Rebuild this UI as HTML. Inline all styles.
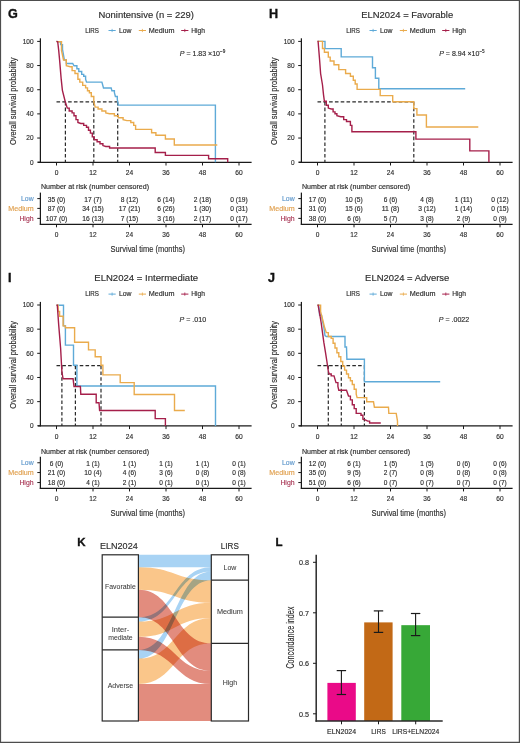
<!DOCTYPE html><html><head><meta charset="utf-8"><style>html,body{margin:0;padding:0;background:#fff;}svg{display:block;font-family:"Liberation Sans", sans-serif;}</style></head><body>
<svg width="520" height="743" viewBox="0 0 520 743">
<rect x="0" y="0" width="520" height="743" fill="#fff"/>
<text x="7.9" y="18" font-size="12.6" fill="#111" font-weight="bold" stroke="#111" stroke-width="0.35">G</text>
<text x="146.2" y="17.8" font-size="9.3" fill="#2b2b2b" stroke="#2b2b2b" stroke-width="0.15" text-anchor="middle" textLength="95.3" lengthAdjust="spacingAndGlyphs">Nonintensive (n = 229)</text>
<text x="85.2" y="32.8" font-size="6.4" fill="#2b2b2b" stroke="#2b2b2b" stroke-width="0.15" textLength="13.8" lengthAdjust="spacingAndGlyphs">LIRS</text>
<line x1="108.5" y1="30.5" x2="115.7" y2="30.5" stroke="#5eaad8" stroke-width="1"/>
<line x1="112.1" y1="28.9" x2="112.1" y2="32.1" stroke="#5eaad8" stroke-width="0.8"/>
<text x="119" y="32.8" font-size="6.8" fill="#2b2b2b" stroke="#2b2b2b" stroke-width="0.15" textLength="12.5" lengthAdjust="spacingAndGlyphs">Low</text>
<line x1="138.8" y1="30.5" x2="146" y2="30.5" stroke="#eaab4c" stroke-width="1"/>
<line x1="142.4" y1="28.9" x2="142.4" y2="32.1" stroke="#eaab4c" stroke-width="0.8"/>
<text x="148.8" y="32.8" font-size="6.8" fill="#2b2b2b" stroke="#2b2b2b" stroke-width="0.15" textLength="25.7" lengthAdjust="spacingAndGlyphs">Medium</text>
<line x1="181.2" y1="30.5" x2="188.4" y2="30.5" stroke="#a51f4a" stroke-width="1"/>
<line x1="184.8" y1="28.9" x2="184.8" y2="32.1" stroke="#a51f4a" stroke-width="0.8"/>
<text x="191.2" y="32.8" font-size="6.8" fill="#2b2b2b" stroke="#2b2b2b" stroke-width="0.15" textLength="13.8" lengthAdjust="spacingAndGlyphs">High</text>
<text x="179.8" y="55.5" font-size="7" fill="#2b2b2b" stroke="#2b2b2b" stroke-width="0.15" textLength="45.5" lengthAdjust="spacingAndGlyphs"><tspan font-style="italic">P</tspan> = 1.83 ×10<tspan font-size="4.6" dy="-2.8">−9</tspan></text>
<line x1="40.4" y1="38.3" x2="40.4" y2="162.8" stroke="#1a1a1a" stroke-width="1.25"/>
<line x1="37.2" y1="162.2" x2="40.4" y2="162.2" stroke="#1a1a1a" stroke-width="1"/>
<text x="33.5" y="164.6" font-size="7.5" fill="#2b2b2b" stroke="#2b2b2b" stroke-width="0.15" text-anchor="end" textLength="3.6" lengthAdjust="spacingAndGlyphs">0</text>
<line x1="37.2" y1="138.04" x2="40.4" y2="138.04" stroke="#1a1a1a" stroke-width="1"/>
<text x="33.5" y="140.44" font-size="7.5" fill="#2b2b2b" stroke="#2b2b2b" stroke-width="0.15" text-anchor="end" textLength="7.2" lengthAdjust="spacingAndGlyphs">20</text>
<line x1="37.2" y1="113.88" x2="40.4" y2="113.88" stroke="#1a1a1a" stroke-width="1"/>
<text x="33.5" y="116.28" font-size="7.5" fill="#2b2b2b" stroke="#2b2b2b" stroke-width="0.15" text-anchor="end" textLength="7.2" lengthAdjust="spacingAndGlyphs">40</text>
<line x1="37.2" y1="89.72" x2="40.4" y2="89.72" stroke="#1a1a1a" stroke-width="1"/>
<text x="33.5" y="92.12" font-size="7.5" fill="#2b2b2b" stroke="#2b2b2b" stroke-width="0.15" text-anchor="end" textLength="7.2" lengthAdjust="spacingAndGlyphs">60</text>
<line x1="37.2" y1="65.56" x2="40.4" y2="65.56" stroke="#1a1a1a" stroke-width="1"/>
<text x="33.5" y="67.96" font-size="7.5" fill="#2b2b2b" stroke="#2b2b2b" stroke-width="0.15" text-anchor="end" textLength="7.2" lengthAdjust="spacingAndGlyphs">80</text>
<line x1="37.2" y1="41.4" x2="40.4" y2="41.4" stroke="#1a1a1a" stroke-width="1"/>
<text x="33.5" y="43.8" font-size="7.5" fill="#2b2b2b" stroke="#2b2b2b" stroke-width="0.15" text-anchor="end" textLength="10.8" lengthAdjust="spacingAndGlyphs">100</text>
<text x="12.8" y="101.3" font-size="9.8" fill="#2b2b2b" stroke="#2b2b2b" stroke-width="0.15" text-anchor="middle" textLength="87.6" lengthAdjust="spacingAndGlyphs" transform="rotate(-90 12.8 101.3) translate(0 2.8)">Overall survival probability</text>
<line x1="38" y1="162.35" x2="251.6" y2="162.35" stroke="#1a1a1a" stroke-width="1.25"/>
<line x1="56.5" y1="162.2" x2="56.5" y2="165.5" stroke="#1a1a1a" stroke-width="1"/>
<text x="56.5" y="175" font-size="7.3" fill="#2b2b2b" stroke="#2b2b2b" stroke-width="0.15" text-anchor="middle" textLength="3.7" lengthAdjust="spacingAndGlyphs">0</text>
<line x1="93" y1="162.2" x2="93" y2="165.5" stroke="#1a1a1a" stroke-width="1"/>
<text x="93" y="175" font-size="7.3" fill="#2b2b2b" stroke="#2b2b2b" stroke-width="0.15" text-anchor="middle" textLength="7.4" lengthAdjust="spacingAndGlyphs">12</text>
<line x1="129.5" y1="162.2" x2="129.5" y2="165.5" stroke="#1a1a1a" stroke-width="1"/>
<text x="129.5" y="175" font-size="7.3" fill="#2b2b2b" stroke="#2b2b2b" stroke-width="0.15" text-anchor="middle" textLength="7.4" lengthAdjust="spacingAndGlyphs">24</text>
<line x1="166" y1="162.2" x2="166" y2="165.5" stroke="#1a1a1a" stroke-width="1"/>
<text x="166" y="175" font-size="7.3" fill="#2b2b2b" stroke="#2b2b2b" stroke-width="0.15" text-anchor="middle" textLength="7.4" lengthAdjust="spacingAndGlyphs">36</text>
<line x1="202.5" y1="162.2" x2="202.5" y2="165.5" stroke="#1a1a1a" stroke-width="1"/>
<text x="202.5" y="175" font-size="7.3" fill="#2b2b2b" stroke="#2b2b2b" stroke-width="0.15" text-anchor="middle" textLength="7.4" lengthAdjust="spacingAndGlyphs">48</text>
<line x1="239" y1="162.2" x2="239" y2="165.5" stroke="#1a1a1a" stroke-width="1"/>
<text x="239" y="175" font-size="7.3" fill="#2b2b2b" stroke="#2b2b2b" stroke-width="0.15" text-anchor="middle" textLength="7.4" lengthAdjust="spacingAndGlyphs">60</text>
<text x="41" y="189.4" font-size="7" fill="#2b2b2b" stroke="#2b2b2b" stroke-width="0.15" textLength="108" lengthAdjust="spacingAndGlyphs">Number at risk (number censored)</text>
<line x1="40.4" y1="192.6" x2="40.4" y2="224.8" stroke="#1a1a1a" stroke-width="1.25"/>
<line x1="39.8" y1="224.3" x2="251.6" y2="224.3" stroke="#1a1a1a" stroke-width="1.3"/>
<line x1="37.3" y1="198.6" x2="40.4" y2="198.6" stroke="#1a1a1a" stroke-width="1"/>
<text x="33.6" y="201.2" font-size="7.2" fill="#5f98cc" stroke="#5f98cc" stroke-width="0.15" text-anchor="end" textLength="12.6" lengthAdjust="spacingAndGlyphs">Low</text>
<text x="56.5" y="201.5" font-size="7.3" fill="#2b2b2b" stroke="#2b2b2b" stroke-width="0.15" text-anchor="middle" textLength="17.35" lengthAdjust="spacingAndGlyphs">35 (0)</text>
<text x="93" y="201.5" font-size="7.3" fill="#2b2b2b" stroke="#2b2b2b" stroke-width="0.15" text-anchor="middle" textLength="17.35" lengthAdjust="spacingAndGlyphs">17 (7)</text>
<text x="129.5" y="201.5" font-size="7.3" fill="#2b2b2b" stroke="#2b2b2b" stroke-width="0.15" text-anchor="middle" textLength="17.35" lengthAdjust="spacingAndGlyphs">8 (12)</text>
<text x="166" y="201.5" font-size="7.3" fill="#2b2b2b" stroke="#2b2b2b" stroke-width="0.15" text-anchor="middle" textLength="17.35" lengthAdjust="spacingAndGlyphs">6 (14)</text>
<text x="202.5" y="201.5" font-size="7.3" fill="#2b2b2b" stroke="#2b2b2b" stroke-width="0.15" text-anchor="middle" textLength="17.35" lengthAdjust="spacingAndGlyphs">2 (18)</text>
<text x="239" y="201.5" font-size="7.3" fill="#2b2b2b" stroke="#2b2b2b" stroke-width="0.15" text-anchor="middle" textLength="17.35" lengthAdjust="spacingAndGlyphs">0 (19)</text>
<line x1="37.3" y1="208.4" x2="40.4" y2="208.4" stroke="#1a1a1a" stroke-width="1"/>
<text x="33.6" y="211" font-size="7.2" fill="#e09f4c" stroke="#e09f4c" stroke-width="0.15" text-anchor="end" textLength="25.3" lengthAdjust="spacingAndGlyphs">Medium</text>
<text x="56.5" y="211.3" font-size="7.3" fill="#2b2b2b" stroke="#2b2b2b" stroke-width="0.15" text-anchor="middle" textLength="17.35" lengthAdjust="spacingAndGlyphs">87 (0)</text>
<text x="93" y="211.3" font-size="7.3" fill="#2b2b2b" stroke="#2b2b2b" stroke-width="0.15" text-anchor="middle" textLength="21.3" lengthAdjust="spacingAndGlyphs">34 (15)</text>
<text x="129.5" y="211.3" font-size="7.3" fill="#2b2b2b" stroke="#2b2b2b" stroke-width="0.15" text-anchor="middle" textLength="21.3" lengthAdjust="spacingAndGlyphs">17 (21)</text>
<text x="166" y="211.3" font-size="7.3" fill="#2b2b2b" stroke="#2b2b2b" stroke-width="0.15" text-anchor="middle" textLength="17.35" lengthAdjust="spacingAndGlyphs">6 (26)</text>
<text x="202.5" y="211.3" font-size="7.3" fill="#2b2b2b" stroke="#2b2b2b" stroke-width="0.15" text-anchor="middle" textLength="17.35" lengthAdjust="spacingAndGlyphs">1 (30)</text>
<text x="239" y="211.3" font-size="7.3" fill="#2b2b2b" stroke="#2b2b2b" stroke-width="0.15" text-anchor="middle" textLength="17.35" lengthAdjust="spacingAndGlyphs">0 (31)</text>
<line x1="37.3" y1="218.4" x2="40.4" y2="218.4" stroke="#1a1a1a" stroke-width="1"/>
<text x="33.6" y="221" font-size="7.2" fill="#a93856" stroke="#a93856" stroke-width="0.15" text-anchor="end" textLength="14.2" lengthAdjust="spacingAndGlyphs">High</text>
<text x="56.5" y="221.3" font-size="7.3" fill="#2b2b2b" stroke="#2b2b2b" stroke-width="0.15" text-anchor="middle" textLength="21.3" lengthAdjust="spacingAndGlyphs">107 (0)</text>
<text x="93" y="221.3" font-size="7.3" fill="#2b2b2b" stroke="#2b2b2b" stroke-width="0.15" text-anchor="middle" textLength="21.3" lengthAdjust="spacingAndGlyphs">16 (13)</text>
<text x="129.5" y="221.3" font-size="7.3" fill="#2b2b2b" stroke="#2b2b2b" stroke-width="0.15" text-anchor="middle" textLength="17.35" lengthAdjust="spacingAndGlyphs">7 (15)</text>
<text x="166" y="221.3" font-size="7.3" fill="#2b2b2b" stroke="#2b2b2b" stroke-width="0.15" text-anchor="middle" textLength="17.35" lengthAdjust="spacingAndGlyphs">3 (16)</text>
<text x="202.5" y="221.3" font-size="7.3" fill="#2b2b2b" stroke="#2b2b2b" stroke-width="0.15" text-anchor="middle" textLength="17.35" lengthAdjust="spacingAndGlyphs">2 (17)</text>
<text x="239" y="221.3" font-size="7.3" fill="#2b2b2b" stroke="#2b2b2b" stroke-width="0.15" text-anchor="middle" textLength="17.35" lengthAdjust="spacingAndGlyphs">0 (17)</text>
<line x1="56.5" y1="224.3" x2="56.5" y2="227.3" stroke="#1a1a1a" stroke-width="1"/>
<text x="56.5" y="237.3" font-size="7.4" fill="#2b2b2b" stroke="#2b2b2b" stroke-width="0.15" text-anchor="middle" textLength="3.65" lengthAdjust="spacingAndGlyphs">0</text>
<line x1="93" y1="224.3" x2="93" y2="227.3" stroke="#1a1a1a" stroke-width="1"/>
<text x="93" y="237.3" font-size="7.4" fill="#2b2b2b" stroke="#2b2b2b" stroke-width="0.15" text-anchor="middle" textLength="7.3" lengthAdjust="spacingAndGlyphs">12</text>
<line x1="129.5" y1="224.3" x2="129.5" y2="227.3" stroke="#1a1a1a" stroke-width="1"/>
<text x="129.5" y="237.3" font-size="7.4" fill="#2b2b2b" stroke="#2b2b2b" stroke-width="0.15" text-anchor="middle" textLength="7.3" lengthAdjust="spacingAndGlyphs">24</text>
<line x1="166" y1="224.3" x2="166" y2="227.3" stroke="#1a1a1a" stroke-width="1"/>
<text x="166" y="237.3" font-size="7.4" fill="#2b2b2b" stroke="#2b2b2b" stroke-width="0.15" text-anchor="middle" textLength="7.3" lengthAdjust="spacingAndGlyphs">36</text>
<line x1="202.5" y1="224.3" x2="202.5" y2="227.3" stroke="#1a1a1a" stroke-width="1"/>
<text x="202.5" y="237.3" font-size="7.4" fill="#2b2b2b" stroke="#2b2b2b" stroke-width="0.15" text-anchor="middle" textLength="7.3" lengthAdjust="spacingAndGlyphs">48</text>
<line x1="239" y1="224.3" x2="239" y2="227.3" stroke="#1a1a1a" stroke-width="1"/>
<text x="239" y="237.3" font-size="7.4" fill="#2b2b2b" stroke="#2b2b2b" stroke-width="0.15" text-anchor="middle" textLength="7.3" lengthAdjust="spacingAndGlyphs">60</text>
<text x="110.6" y="251.8" font-size="9.4" fill="#2b2b2b" stroke="#2b2b2b" stroke-width="0.15" textLength="74.4" lengthAdjust="spacingAndGlyphs">Survival time (months)</text>
<text x="268.9" y="18" font-size="12.6" fill="#111" font-weight="bold" stroke="#111" stroke-width="0.35">H</text>
<text x="407.2" y="17.8" font-size="9.3" fill="#2b2b2b" stroke="#2b2b2b" stroke-width="0.15" text-anchor="middle" textLength="91.9" lengthAdjust="spacingAndGlyphs">ELN2024 = Favorable</text>
<text x="346.2" y="32.8" font-size="6.4" fill="#2b2b2b" stroke="#2b2b2b" stroke-width="0.15" textLength="13.8" lengthAdjust="spacingAndGlyphs">LIRS</text>
<line x1="369.5" y1="30.5" x2="376.7" y2="30.5" stroke="#5eaad8" stroke-width="1"/>
<line x1="373.1" y1="28.9" x2="373.1" y2="32.1" stroke="#5eaad8" stroke-width="0.8"/>
<text x="380" y="32.8" font-size="6.8" fill="#2b2b2b" stroke="#2b2b2b" stroke-width="0.15" textLength="12.5" lengthAdjust="spacingAndGlyphs">Low</text>
<line x1="399.8" y1="30.5" x2="407" y2="30.5" stroke="#eaab4c" stroke-width="1"/>
<line x1="403.4" y1="28.9" x2="403.4" y2="32.1" stroke="#eaab4c" stroke-width="0.8"/>
<text x="409.8" y="32.8" font-size="6.8" fill="#2b2b2b" stroke="#2b2b2b" stroke-width="0.15" textLength="25.7" lengthAdjust="spacingAndGlyphs">Medium</text>
<line x1="442.2" y1="30.5" x2="449.4" y2="30.5" stroke="#a51f4a" stroke-width="1"/>
<line x1="445.8" y1="28.9" x2="445.8" y2="32.1" stroke="#a51f4a" stroke-width="0.8"/>
<text x="452.2" y="32.8" font-size="6.8" fill="#2b2b2b" stroke="#2b2b2b" stroke-width="0.15" textLength="13.8" lengthAdjust="spacingAndGlyphs">High</text>
<text x="439.2" y="55.5" font-size="7" fill="#2b2b2b" stroke="#2b2b2b" stroke-width="0.15" textLength="45.5" lengthAdjust="spacingAndGlyphs"><tspan font-style="italic">P</tspan> = 8.94 ×10<tspan font-size="4.6" dy="-2.8">−5</tspan></text>
<line x1="301.4" y1="38.3" x2="301.4" y2="162.8" stroke="#1a1a1a" stroke-width="1.25"/>
<line x1="298.2" y1="162.2" x2="301.4" y2="162.2" stroke="#1a1a1a" stroke-width="1"/>
<text x="294.5" y="164.6" font-size="7.5" fill="#2b2b2b" stroke="#2b2b2b" stroke-width="0.15" text-anchor="end" textLength="3.6" lengthAdjust="spacingAndGlyphs">0</text>
<line x1="298.2" y1="138.04" x2="301.4" y2="138.04" stroke="#1a1a1a" stroke-width="1"/>
<text x="294.5" y="140.44" font-size="7.5" fill="#2b2b2b" stroke="#2b2b2b" stroke-width="0.15" text-anchor="end" textLength="7.2" lengthAdjust="spacingAndGlyphs">20</text>
<line x1="298.2" y1="113.88" x2="301.4" y2="113.88" stroke="#1a1a1a" stroke-width="1"/>
<text x="294.5" y="116.28" font-size="7.5" fill="#2b2b2b" stroke="#2b2b2b" stroke-width="0.15" text-anchor="end" textLength="7.2" lengthAdjust="spacingAndGlyphs">40</text>
<line x1="298.2" y1="89.72" x2="301.4" y2="89.72" stroke="#1a1a1a" stroke-width="1"/>
<text x="294.5" y="92.12" font-size="7.5" fill="#2b2b2b" stroke="#2b2b2b" stroke-width="0.15" text-anchor="end" textLength="7.2" lengthAdjust="spacingAndGlyphs">60</text>
<line x1="298.2" y1="65.56" x2="301.4" y2="65.56" stroke="#1a1a1a" stroke-width="1"/>
<text x="294.5" y="67.96" font-size="7.5" fill="#2b2b2b" stroke="#2b2b2b" stroke-width="0.15" text-anchor="end" textLength="7.2" lengthAdjust="spacingAndGlyphs">80</text>
<line x1="298.2" y1="41.4" x2="301.4" y2="41.4" stroke="#1a1a1a" stroke-width="1"/>
<text x="294.5" y="43.8" font-size="7.5" fill="#2b2b2b" stroke="#2b2b2b" stroke-width="0.15" text-anchor="end" textLength="10.8" lengthAdjust="spacingAndGlyphs">100</text>
<text x="273.8" y="101.3" font-size="9.8" fill="#2b2b2b" stroke="#2b2b2b" stroke-width="0.15" text-anchor="middle" textLength="87.6" lengthAdjust="spacingAndGlyphs" transform="rotate(-90 273.8 101.3) translate(0 2.8)">Overall survival probability</text>
<line x1="299" y1="162.35" x2="512.6" y2="162.35" stroke="#1a1a1a" stroke-width="1.25"/>
<line x1="317.5" y1="162.2" x2="317.5" y2="165.5" stroke="#1a1a1a" stroke-width="1"/>
<text x="317.5" y="175" font-size="7.3" fill="#2b2b2b" stroke="#2b2b2b" stroke-width="0.15" text-anchor="middle" textLength="3.7" lengthAdjust="spacingAndGlyphs">0</text>
<line x1="354" y1="162.2" x2="354" y2="165.5" stroke="#1a1a1a" stroke-width="1"/>
<text x="354" y="175" font-size="7.3" fill="#2b2b2b" stroke="#2b2b2b" stroke-width="0.15" text-anchor="middle" textLength="7.4" lengthAdjust="spacingAndGlyphs">12</text>
<line x1="390.5" y1="162.2" x2="390.5" y2="165.5" stroke="#1a1a1a" stroke-width="1"/>
<text x="390.5" y="175" font-size="7.3" fill="#2b2b2b" stroke="#2b2b2b" stroke-width="0.15" text-anchor="middle" textLength="7.4" lengthAdjust="spacingAndGlyphs">24</text>
<line x1="427" y1="162.2" x2="427" y2="165.5" stroke="#1a1a1a" stroke-width="1"/>
<text x="427" y="175" font-size="7.3" fill="#2b2b2b" stroke="#2b2b2b" stroke-width="0.15" text-anchor="middle" textLength="7.4" lengthAdjust="spacingAndGlyphs">36</text>
<line x1="463.5" y1="162.2" x2="463.5" y2="165.5" stroke="#1a1a1a" stroke-width="1"/>
<text x="463.5" y="175" font-size="7.3" fill="#2b2b2b" stroke="#2b2b2b" stroke-width="0.15" text-anchor="middle" textLength="7.4" lengthAdjust="spacingAndGlyphs">48</text>
<line x1="500" y1="162.2" x2="500" y2="165.5" stroke="#1a1a1a" stroke-width="1"/>
<text x="500" y="175" font-size="7.3" fill="#2b2b2b" stroke="#2b2b2b" stroke-width="0.15" text-anchor="middle" textLength="7.4" lengthAdjust="spacingAndGlyphs">60</text>
<text x="302" y="189.4" font-size="7" fill="#2b2b2b" stroke="#2b2b2b" stroke-width="0.15" textLength="108" lengthAdjust="spacingAndGlyphs">Number at risk (number censored)</text>
<line x1="301.4" y1="192.6" x2="301.4" y2="224.8" stroke="#1a1a1a" stroke-width="1.25"/>
<line x1="300.8" y1="224.3" x2="512.6" y2="224.3" stroke="#1a1a1a" stroke-width="1.3"/>
<line x1="298.3" y1="198.6" x2="301.4" y2="198.6" stroke="#1a1a1a" stroke-width="1"/>
<text x="294.6" y="201.2" font-size="7.2" fill="#5f98cc" stroke="#5f98cc" stroke-width="0.15" text-anchor="end" textLength="12.6" lengthAdjust="spacingAndGlyphs">Low</text>
<text x="317.5" y="201.5" font-size="7.3" fill="#2b2b2b" stroke="#2b2b2b" stroke-width="0.15" text-anchor="middle" textLength="17.35" lengthAdjust="spacingAndGlyphs">17 (0)</text>
<text x="354" y="201.5" font-size="7.3" fill="#2b2b2b" stroke="#2b2b2b" stroke-width="0.15" text-anchor="middle" textLength="17.35" lengthAdjust="spacingAndGlyphs">10 (5)</text>
<text x="390.5" y="201.5" font-size="7.3" fill="#2b2b2b" stroke="#2b2b2b" stroke-width="0.15" text-anchor="middle" textLength="13.4" lengthAdjust="spacingAndGlyphs">6 (6)</text>
<text x="427" y="201.5" font-size="7.3" fill="#2b2b2b" stroke="#2b2b2b" stroke-width="0.15" text-anchor="middle" textLength="13.4" lengthAdjust="spacingAndGlyphs">4 (8)</text>
<text x="463.5" y="201.5" font-size="7.3" fill="#2b2b2b" stroke="#2b2b2b" stroke-width="0.15" text-anchor="middle" textLength="17.35" lengthAdjust="spacingAndGlyphs">1 (11)</text>
<text x="500" y="201.5" font-size="7.3" fill="#2b2b2b" stroke="#2b2b2b" stroke-width="0.15" text-anchor="middle" textLength="17.35" lengthAdjust="spacingAndGlyphs">0 (12)</text>
<line x1="298.3" y1="208.4" x2="301.4" y2="208.4" stroke="#1a1a1a" stroke-width="1"/>
<text x="294.6" y="211" font-size="7.2" fill="#e09f4c" stroke="#e09f4c" stroke-width="0.15" text-anchor="end" textLength="25.3" lengthAdjust="spacingAndGlyphs">Medium</text>
<text x="317.5" y="211.3" font-size="7.3" fill="#2b2b2b" stroke="#2b2b2b" stroke-width="0.15" text-anchor="middle" textLength="17.35" lengthAdjust="spacingAndGlyphs">31 (0)</text>
<text x="354" y="211.3" font-size="7.3" fill="#2b2b2b" stroke="#2b2b2b" stroke-width="0.15" text-anchor="middle" textLength="17.35" lengthAdjust="spacingAndGlyphs">15 (6)</text>
<text x="390.5" y="211.3" font-size="7.3" fill="#2b2b2b" stroke="#2b2b2b" stroke-width="0.15" text-anchor="middle" textLength="17.35" lengthAdjust="spacingAndGlyphs">11 (8)</text>
<text x="427" y="211.3" font-size="7.3" fill="#2b2b2b" stroke="#2b2b2b" stroke-width="0.15" text-anchor="middle" textLength="17.35" lengthAdjust="spacingAndGlyphs">3 (12)</text>
<text x="463.5" y="211.3" font-size="7.3" fill="#2b2b2b" stroke="#2b2b2b" stroke-width="0.15" text-anchor="middle" textLength="17.35" lengthAdjust="spacingAndGlyphs">1 (14)</text>
<text x="500" y="211.3" font-size="7.3" fill="#2b2b2b" stroke="#2b2b2b" stroke-width="0.15" text-anchor="middle" textLength="17.35" lengthAdjust="spacingAndGlyphs">0 (15)</text>
<line x1="298.3" y1="218.4" x2="301.4" y2="218.4" stroke="#1a1a1a" stroke-width="1"/>
<text x="294.6" y="221" font-size="7.2" fill="#a93856" stroke="#a93856" stroke-width="0.15" text-anchor="end" textLength="14.2" lengthAdjust="spacingAndGlyphs">High</text>
<text x="317.5" y="221.3" font-size="7.3" fill="#2b2b2b" stroke="#2b2b2b" stroke-width="0.15" text-anchor="middle" textLength="17.35" lengthAdjust="spacingAndGlyphs">38 (0)</text>
<text x="354" y="221.3" font-size="7.3" fill="#2b2b2b" stroke="#2b2b2b" stroke-width="0.15" text-anchor="middle" textLength="13.4" lengthAdjust="spacingAndGlyphs">6 (6)</text>
<text x="390.5" y="221.3" font-size="7.3" fill="#2b2b2b" stroke="#2b2b2b" stroke-width="0.15" text-anchor="middle" textLength="13.4" lengthAdjust="spacingAndGlyphs">5 (7)</text>
<text x="427" y="221.3" font-size="7.3" fill="#2b2b2b" stroke="#2b2b2b" stroke-width="0.15" text-anchor="middle" textLength="13.4" lengthAdjust="spacingAndGlyphs">3 (8)</text>
<text x="463.5" y="221.3" font-size="7.3" fill="#2b2b2b" stroke="#2b2b2b" stroke-width="0.15" text-anchor="middle" textLength="13.4" lengthAdjust="spacingAndGlyphs">2 (9)</text>
<text x="500" y="221.3" font-size="7.3" fill="#2b2b2b" stroke="#2b2b2b" stroke-width="0.15" text-anchor="middle" textLength="13.4" lengthAdjust="spacingAndGlyphs">0 (9)</text>
<line x1="317.5" y1="224.3" x2="317.5" y2="227.3" stroke="#1a1a1a" stroke-width="1"/>
<text x="317.5" y="237.3" font-size="7.4" fill="#2b2b2b" stroke="#2b2b2b" stroke-width="0.15" text-anchor="middle" textLength="3.65" lengthAdjust="spacingAndGlyphs">0</text>
<line x1="354" y1="224.3" x2="354" y2="227.3" stroke="#1a1a1a" stroke-width="1"/>
<text x="354" y="237.3" font-size="7.4" fill="#2b2b2b" stroke="#2b2b2b" stroke-width="0.15" text-anchor="middle" textLength="7.3" lengthAdjust="spacingAndGlyphs">12</text>
<line x1="390.5" y1="224.3" x2="390.5" y2="227.3" stroke="#1a1a1a" stroke-width="1"/>
<text x="390.5" y="237.3" font-size="7.4" fill="#2b2b2b" stroke="#2b2b2b" stroke-width="0.15" text-anchor="middle" textLength="7.3" lengthAdjust="spacingAndGlyphs">24</text>
<line x1="427" y1="224.3" x2="427" y2="227.3" stroke="#1a1a1a" stroke-width="1"/>
<text x="427" y="237.3" font-size="7.4" fill="#2b2b2b" stroke="#2b2b2b" stroke-width="0.15" text-anchor="middle" textLength="7.3" lengthAdjust="spacingAndGlyphs">36</text>
<line x1="463.5" y1="224.3" x2="463.5" y2="227.3" stroke="#1a1a1a" stroke-width="1"/>
<text x="463.5" y="237.3" font-size="7.4" fill="#2b2b2b" stroke="#2b2b2b" stroke-width="0.15" text-anchor="middle" textLength="7.3" lengthAdjust="spacingAndGlyphs">48</text>
<line x1="500" y1="224.3" x2="500" y2="227.3" stroke="#1a1a1a" stroke-width="1"/>
<text x="500" y="237.3" font-size="7.4" fill="#2b2b2b" stroke="#2b2b2b" stroke-width="0.15" text-anchor="middle" textLength="7.3" lengthAdjust="spacingAndGlyphs">60</text>
<text x="371.6" y="251.8" font-size="9.4" fill="#2b2b2b" stroke="#2b2b2b" stroke-width="0.15" textLength="74.4" lengthAdjust="spacingAndGlyphs">Survival time (months)</text>
<text x="7.9" y="281.6" font-size="12.6" fill="#111" font-weight="bold" stroke="#111" stroke-width="0.35">I</text>
<text x="146.2" y="281.4" font-size="9.3" fill="#2b2b2b" stroke="#2b2b2b" stroke-width="0.15" text-anchor="middle" textLength="103.9" lengthAdjust="spacingAndGlyphs">ELN2024 = Intermediate</text>
<text x="85.2" y="296.4" font-size="6.4" fill="#2b2b2b" stroke="#2b2b2b" stroke-width="0.15" textLength="13.8" lengthAdjust="spacingAndGlyphs">LIRS</text>
<line x1="108.5" y1="294.1" x2="115.7" y2="294.1" stroke="#5eaad8" stroke-width="1"/>
<line x1="112.1" y1="292.5" x2="112.1" y2="295.7" stroke="#5eaad8" stroke-width="0.8"/>
<text x="119" y="296.4" font-size="6.8" fill="#2b2b2b" stroke="#2b2b2b" stroke-width="0.15" textLength="12.5" lengthAdjust="spacingAndGlyphs">Low</text>
<line x1="138.8" y1="294.1" x2="146" y2="294.1" stroke="#eaab4c" stroke-width="1"/>
<line x1="142.4" y1="292.5" x2="142.4" y2="295.7" stroke="#eaab4c" stroke-width="0.8"/>
<text x="148.8" y="296.4" font-size="6.8" fill="#2b2b2b" stroke="#2b2b2b" stroke-width="0.15" textLength="25.7" lengthAdjust="spacingAndGlyphs">Medium</text>
<line x1="181.2" y1="294.1" x2="188.4" y2="294.1" stroke="#a51f4a" stroke-width="1"/>
<line x1="184.8" y1="292.5" x2="184.8" y2="295.7" stroke="#a51f4a" stroke-width="0.8"/>
<text x="191.2" y="296.4" font-size="6.8" fill="#2b2b2b" stroke="#2b2b2b" stroke-width="0.15" textLength="13.8" lengthAdjust="spacingAndGlyphs">High</text>
<text x="179.6" y="321.5" font-size="7" fill="#2b2b2b" stroke="#2b2b2b" stroke-width="0.15" textLength="26.5" lengthAdjust="spacingAndGlyphs"><tspan font-style="italic">P</tspan> = .010</text>
<line x1="40.4" y1="301.9" x2="40.4" y2="426.4" stroke="#1a1a1a" stroke-width="1.25"/>
<line x1="37.2" y1="425.8" x2="40.4" y2="425.8" stroke="#1a1a1a" stroke-width="1"/>
<text x="33.5" y="428.2" font-size="7.5" fill="#2b2b2b" stroke="#2b2b2b" stroke-width="0.15" text-anchor="end" textLength="3.6" lengthAdjust="spacingAndGlyphs">0</text>
<line x1="37.2" y1="401.64" x2="40.4" y2="401.64" stroke="#1a1a1a" stroke-width="1"/>
<text x="33.5" y="404.04" font-size="7.5" fill="#2b2b2b" stroke="#2b2b2b" stroke-width="0.15" text-anchor="end" textLength="7.2" lengthAdjust="spacingAndGlyphs">20</text>
<line x1="37.2" y1="377.48" x2="40.4" y2="377.48" stroke="#1a1a1a" stroke-width="1"/>
<text x="33.5" y="379.88" font-size="7.5" fill="#2b2b2b" stroke="#2b2b2b" stroke-width="0.15" text-anchor="end" textLength="7.2" lengthAdjust="spacingAndGlyphs">40</text>
<line x1="37.2" y1="353.32" x2="40.4" y2="353.32" stroke="#1a1a1a" stroke-width="1"/>
<text x="33.5" y="355.72" font-size="7.5" fill="#2b2b2b" stroke="#2b2b2b" stroke-width="0.15" text-anchor="end" textLength="7.2" lengthAdjust="spacingAndGlyphs">60</text>
<line x1="37.2" y1="329.16" x2="40.4" y2="329.16" stroke="#1a1a1a" stroke-width="1"/>
<text x="33.5" y="331.56" font-size="7.5" fill="#2b2b2b" stroke="#2b2b2b" stroke-width="0.15" text-anchor="end" textLength="7.2" lengthAdjust="spacingAndGlyphs">80</text>
<line x1="37.2" y1="305" x2="40.4" y2="305" stroke="#1a1a1a" stroke-width="1"/>
<text x="33.5" y="307.4" font-size="7.5" fill="#2b2b2b" stroke="#2b2b2b" stroke-width="0.15" text-anchor="end" textLength="10.8" lengthAdjust="spacingAndGlyphs">100</text>
<text x="12.8" y="364.9" font-size="9.8" fill="#2b2b2b" stroke="#2b2b2b" stroke-width="0.15" text-anchor="middle" textLength="87.6" lengthAdjust="spacingAndGlyphs" transform="rotate(-90 12.8 364.9) translate(0 2.8)">Overall survival probability</text>
<line x1="38" y1="425.95" x2="251.6" y2="425.95" stroke="#1a1a1a" stroke-width="1.25"/>
<line x1="56.5" y1="425.8" x2="56.5" y2="429.1" stroke="#1a1a1a" stroke-width="1"/>
<text x="56.5" y="438.6" font-size="7.3" fill="#2b2b2b" stroke="#2b2b2b" stroke-width="0.15" text-anchor="middle" textLength="3.7" lengthAdjust="spacingAndGlyphs">0</text>
<line x1="93" y1="425.8" x2="93" y2="429.1" stroke="#1a1a1a" stroke-width="1"/>
<text x="93" y="438.6" font-size="7.3" fill="#2b2b2b" stroke="#2b2b2b" stroke-width="0.15" text-anchor="middle" textLength="7.4" lengthAdjust="spacingAndGlyphs">12</text>
<line x1="129.5" y1="425.8" x2="129.5" y2="429.1" stroke="#1a1a1a" stroke-width="1"/>
<text x="129.5" y="438.6" font-size="7.3" fill="#2b2b2b" stroke="#2b2b2b" stroke-width="0.15" text-anchor="middle" textLength="7.4" lengthAdjust="spacingAndGlyphs">24</text>
<line x1="166" y1="425.8" x2="166" y2="429.1" stroke="#1a1a1a" stroke-width="1"/>
<text x="166" y="438.6" font-size="7.3" fill="#2b2b2b" stroke="#2b2b2b" stroke-width="0.15" text-anchor="middle" textLength="7.4" lengthAdjust="spacingAndGlyphs">36</text>
<line x1="202.5" y1="425.8" x2="202.5" y2="429.1" stroke="#1a1a1a" stroke-width="1"/>
<text x="202.5" y="438.6" font-size="7.3" fill="#2b2b2b" stroke="#2b2b2b" stroke-width="0.15" text-anchor="middle" textLength="7.4" lengthAdjust="spacingAndGlyphs">48</text>
<line x1="239" y1="425.8" x2="239" y2="429.1" stroke="#1a1a1a" stroke-width="1"/>
<text x="239" y="438.6" font-size="7.3" fill="#2b2b2b" stroke="#2b2b2b" stroke-width="0.15" text-anchor="middle" textLength="7.4" lengthAdjust="spacingAndGlyphs">60</text>
<text x="41" y="453.55" font-size="7" fill="#2b2b2b" stroke="#2b2b2b" stroke-width="0.15" textLength="108" lengthAdjust="spacingAndGlyphs">Number at risk (number censored)</text>
<line x1="40.4" y1="456.75" x2="40.4" y2="488.95" stroke="#1a1a1a" stroke-width="1.25"/>
<line x1="39.8" y1="488.45" x2="251.6" y2="488.45" stroke="#1a1a1a" stroke-width="1.3"/>
<line x1="37.3" y1="462.75" x2="40.4" y2="462.75" stroke="#1a1a1a" stroke-width="1"/>
<text x="33.6" y="465.35" font-size="7.2" fill="#5f98cc" stroke="#5f98cc" stroke-width="0.15" text-anchor="end" textLength="12.6" lengthAdjust="spacingAndGlyphs">Low</text>
<text x="56.5" y="465.65" font-size="7.3" fill="#2b2b2b" stroke="#2b2b2b" stroke-width="0.15" text-anchor="middle" textLength="13.4" lengthAdjust="spacingAndGlyphs">6 (0)</text>
<text x="93" y="465.65" font-size="7.3" fill="#2b2b2b" stroke="#2b2b2b" stroke-width="0.15" text-anchor="middle" textLength="13.4" lengthAdjust="spacingAndGlyphs">1 (1)</text>
<text x="129.5" y="465.65" font-size="7.3" fill="#2b2b2b" stroke="#2b2b2b" stroke-width="0.15" text-anchor="middle" textLength="13.4" lengthAdjust="spacingAndGlyphs">1 (1)</text>
<text x="166" y="465.65" font-size="7.3" fill="#2b2b2b" stroke="#2b2b2b" stroke-width="0.15" text-anchor="middle" textLength="13.4" lengthAdjust="spacingAndGlyphs">1 (1)</text>
<text x="202.5" y="465.65" font-size="7.3" fill="#2b2b2b" stroke="#2b2b2b" stroke-width="0.15" text-anchor="middle" textLength="13.4" lengthAdjust="spacingAndGlyphs">1 (1)</text>
<text x="239" y="465.65" font-size="7.3" fill="#2b2b2b" stroke="#2b2b2b" stroke-width="0.15" text-anchor="middle" textLength="13.4" lengthAdjust="spacingAndGlyphs">0 (1)</text>
<line x1="37.3" y1="472.55" x2="40.4" y2="472.55" stroke="#1a1a1a" stroke-width="1"/>
<text x="33.6" y="475.15" font-size="7.2" fill="#e09f4c" stroke="#e09f4c" stroke-width="0.15" text-anchor="end" textLength="25.3" lengthAdjust="spacingAndGlyphs">Medium</text>
<text x="56.5" y="475.45" font-size="7.3" fill="#2b2b2b" stroke="#2b2b2b" stroke-width="0.15" text-anchor="middle" textLength="17.35" lengthAdjust="spacingAndGlyphs">21 (0)</text>
<text x="93" y="475.45" font-size="7.3" fill="#2b2b2b" stroke="#2b2b2b" stroke-width="0.15" text-anchor="middle" textLength="17.35" lengthAdjust="spacingAndGlyphs">10 (4)</text>
<text x="129.5" y="475.45" font-size="7.3" fill="#2b2b2b" stroke="#2b2b2b" stroke-width="0.15" text-anchor="middle" textLength="13.4" lengthAdjust="spacingAndGlyphs">4 (6)</text>
<text x="166" y="475.45" font-size="7.3" fill="#2b2b2b" stroke="#2b2b2b" stroke-width="0.15" text-anchor="middle" textLength="13.4" lengthAdjust="spacingAndGlyphs">3 (6)</text>
<text x="202.5" y="475.45" font-size="7.3" fill="#2b2b2b" stroke="#2b2b2b" stroke-width="0.15" text-anchor="middle" textLength="13.4" lengthAdjust="spacingAndGlyphs">0 (8)</text>
<text x="239" y="475.45" font-size="7.3" fill="#2b2b2b" stroke="#2b2b2b" stroke-width="0.15" text-anchor="middle" textLength="13.4" lengthAdjust="spacingAndGlyphs">0 (8)</text>
<line x1="37.3" y1="482.55" x2="40.4" y2="482.55" stroke="#1a1a1a" stroke-width="1"/>
<text x="33.6" y="485.15" font-size="7.2" fill="#a93856" stroke="#a93856" stroke-width="0.15" text-anchor="end" textLength="14.2" lengthAdjust="spacingAndGlyphs">High</text>
<text x="56.5" y="485.45" font-size="7.3" fill="#2b2b2b" stroke="#2b2b2b" stroke-width="0.15" text-anchor="middle" textLength="17.35" lengthAdjust="spacingAndGlyphs">18 (0)</text>
<text x="93" y="485.45" font-size="7.3" fill="#2b2b2b" stroke="#2b2b2b" stroke-width="0.15" text-anchor="middle" textLength="13.4" lengthAdjust="spacingAndGlyphs">4 (1)</text>
<text x="129.5" y="485.45" font-size="7.3" fill="#2b2b2b" stroke="#2b2b2b" stroke-width="0.15" text-anchor="middle" textLength="13.4" lengthAdjust="spacingAndGlyphs">2 (1)</text>
<text x="166" y="485.45" font-size="7.3" fill="#2b2b2b" stroke="#2b2b2b" stroke-width="0.15" text-anchor="middle" textLength="13.4" lengthAdjust="spacingAndGlyphs">0 (1)</text>
<text x="202.5" y="485.45" font-size="7.3" fill="#2b2b2b" stroke="#2b2b2b" stroke-width="0.15" text-anchor="middle" textLength="13.4" lengthAdjust="spacingAndGlyphs">0 (1)</text>
<text x="239" y="485.45" font-size="7.3" fill="#2b2b2b" stroke="#2b2b2b" stroke-width="0.15" text-anchor="middle" textLength="13.4" lengthAdjust="spacingAndGlyphs">0 (1)</text>
<line x1="56.5" y1="488.45" x2="56.5" y2="491.45" stroke="#1a1a1a" stroke-width="1"/>
<text x="56.5" y="501.45" font-size="7.4" fill="#2b2b2b" stroke="#2b2b2b" stroke-width="0.15" text-anchor="middle" textLength="3.65" lengthAdjust="spacingAndGlyphs">0</text>
<line x1="93" y1="488.45" x2="93" y2="491.45" stroke="#1a1a1a" stroke-width="1"/>
<text x="93" y="501.45" font-size="7.4" fill="#2b2b2b" stroke="#2b2b2b" stroke-width="0.15" text-anchor="middle" textLength="7.3" lengthAdjust="spacingAndGlyphs">12</text>
<line x1="129.5" y1="488.45" x2="129.5" y2="491.45" stroke="#1a1a1a" stroke-width="1"/>
<text x="129.5" y="501.45" font-size="7.4" fill="#2b2b2b" stroke="#2b2b2b" stroke-width="0.15" text-anchor="middle" textLength="7.3" lengthAdjust="spacingAndGlyphs">24</text>
<line x1="166" y1="488.45" x2="166" y2="491.45" stroke="#1a1a1a" stroke-width="1"/>
<text x="166" y="501.45" font-size="7.4" fill="#2b2b2b" stroke="#2b2b2b" stroke-width="0.15" text-anchor="middle" textLength="7.3" lengthAdjust="spacingAndGlyphs">36</text>
<line x1="202.5" y1="488.45" x2="202.5" y2="491.45" stroke="#1a1a1a" stroke-width="1"/>
<text x="202.5" y="501.45" font-size="7.4" fill="#2b2b2b" stroke="#2b2b2b" stroke-width="0.15" text-anchor="middle" textLength="7.3" lengthAdjust="spacingAndGlyphs">48</text>
<line x1="239" y1="488.45" x2="239" y2="491.45" stroke="#1a1a1a" stroke-width="1"/>
<text x="239" y="501.45" font-size="7.4" fill="#2b2b2b" stroke="#2b2b2b" stroke-width="0.15" text-anchor="middle" textLength="7.3" lengthAdjust="spacingAndGlyphs">60</text>
<text x="110.6" y="515.95" font-size="9.4" fill="#2b2b2b" stroke="#2b2b2b" stroke-width="0.15" textLength="74.4" lengthAdjust="spacingAndGlyphs">Survival time (months)</text>
<text x="268.1" y="281.6" font-size="12.6" fill="#111" font-weight="bold" stroke="#111" stroke-width="0.35">J</text>
<text x="407.2" y="281.4" font-size="9.3" fill="#2b2b2b" stroke="#2b2b2b" stroke-width="0.15" text-anchor="middle" textLength="84.2" lengthAdjust="spacingAndGlyphs">ELN2024 = Adverse</text>
<text x="346.2" y="296.4" font-size="6.4" fill="#2b2b2b" stroke="#2b2b2b" stroke-width="0.15" textLength="13.8" lengthAdjust="spacingAndGlyphs">LIRS</text>
<line x1="369.5" y1="294.1" x2="376.7" y2="294.1" stroke="#5eaad8" stroke-width="1"/>
<line x1="373.1" y1="292.5" x2="373.1" y2="295.7" stroke="#5eaad8" stroke-width="0.8"/>
<text x="380" y="296.4" font-size="6.8" fill="#2b2b2b" stroke="#2b2b2b" stroke-width="0.15" textLength="12.5" lengthAdjust="spacingAndGlyphs">Low</text>
<line x1="399.8" y1="294.1" x2="407" y2="294.1" stroke="#eaab4c" stroke-width="1"/>
<line x1="403.4" y1="292.5" x2="403.4" y2="295.7" stroke="#eaab4c" stroke-width="0.8"/>
<text x="409.8" y="296.4" font-size="6.8" fill="#2b2b2b" stroke="#2b2b2b" stroke-width="0.15" textLength="25.7" lengthAdjust="spacingAndGlyphs">Medium</text>
<line x1="442.2" y1="294.1" x2="449.4" y2="294.1" stroke="#a51f4a" stroke-width="1"/>
<line x1="445.8" y1="292.5" x2="445.8" y2="295.7" stroke="#a51f4a" stroke-width="0.8"/>
<text x="452.2" y="296.4" font-size="6.8" fill="#2b2b2b" stroke="#2b2b2b" stroke-width="0.15" textLength="13.8" lengthAdjust="spacingAndGlyphs">High</text>
<text x="438.8" y="321.5" font-size="7" fill="#2b2b2b" stroke="#2b2b2b" stroke-width="0.15" textLength="30.4" lengthAdjust="spacingAndGlyphs"><tspan font-style="italic">P</tspan> = .0022</text>
<line x1="301.4" y1="301.9" x2="301.4" y2="426.4" stroke="#1a1a1a" stroke-width="1.25"/>
<line x1="298.2" y1="425.8" x2="301.4" y2="425.8" stroke="#1a1a1a" stroke-width="1"/>
<text x="294.5" y="428.2" font-size="7.5" fill="#2b2b2b" stroke="#2b2b2b" stroke-width="0.15" text-anchor="end" textLength="3.6" lengthAdjust="spacingAndGlyphs">0</text>
<line x1="298.2" y1="401.64" x2="301.4" y2="401.64" stroke="#1a1a1a" stroke-width="1"/>
<text x="294.5" y="404.04" font-size="7.5" fill="#2b2b2b" stroke="#2b2b2b" stroke-width="0.15" text-anchor="end" textLength="7.2" lengthAdjust="spacingAndGlyphs">20</text>
<line x1="298.2" y1="377.48" x2="301.4" y2="377.48" stroke="#1a1a1a" stroke-width="1"/>
<text x="294.5" y="379.88" font-size="7.5" fill="#2b2b2b" stroke="#2b2b2b" stroke-width="0.15" text-anchor="end" textLength="7.2" lengthAdjust="spacingAndGlyphs">40</text>
<line x1="298.2" y1="353.32" x2="301.4" y2="353.32" stroke="#1a1a1a" stroke-width="1"/>
<text x="294.5" y="355.72" font-size="7.5" fill="#2b2b2b" stroke="#2b2b2b" stroke-width="0.15" text-anchor="end" textLength="7.2" lengthAdjust="spacingAndGlyphs">60</text>
<line x1="298.2" y1="329.16" x2="301.4" y2="329.16" stroke="#1a1a1a" stroke-width="1"/>
<text x="294.5" y="331.56" font-size="7.5" fill="#2b2b2b" stroke="#2b2b2b" stroke-width="0.15" text-anchor="end" textLength="7.2" lengthAdjust="spacingAndGlyphs">80</text>
<line x1="298.2" y1="305" x2="301.4" y2="305" stroke="#1a1a1a" stroke-width="1"/>
<text x="294.5" y="307.4" font-size="7.5" fill="#2b2b2b" stroke="#2b2b2b" stroke-width="0.15" text-anchor="end" textLength="10.8" lengthAdjust="spacingAndGlyphs">100</text>
<text x="273.8" y="364.9" font-size="9.8" fill="#2b2b2b" stroke="#2b2b2b" stroke-width="0.15" text-anchor="middle" textLength="87.6" lengthAdjust="spacingAndGlyphs" transform="rotate(-90 273.8 364.9) translate(0 2.8)">Overall survival probability</text>
<line x1="299" y1="425.95" x2="512.6" y2="425.95" stroke="#1a1a1a" stroke-width="1.25"/>
<line x1="317.5" y1="425.8" x2="317.5" y2="429.1" stroke="#1a1a1a" stroke-width="1"/>
<text x="317.5" y="438.6" font-size="7.3" fill="#2b2b2b" stroke="#2b2b2b" stroke-width="0.15" text-anchor="middle" textLength="3.7" lengthAdjust="spacingAndGlyphs">0</text>
<line x1="354" y1="425.8" x2="354" y2="429.1" stroke="#1a1a1a" stroke-width="1"/>
<text x="354" y="438.6" font-size="7.3" fill="#2b2b2b" stroke="#2b2b2b" stroke-width="0.15" text-anchor="middle" textLength="7.4" lengthAdjust="spacingAndGlyphs">12</text>
<line x1="390.5" y1="425.8" x2="390.5" y2="429.1" stroke="#1a1a1a" stroke-width="1"/>
<text x="390.5" y="438.6" font-size="7.3" fill="#2b2b2b" stroke="#2b2b2b" stroke-width="0.15" text-anchor="middle" textLength="7.4" lengthAdjust="spacingAndGlyphs">24</text>
<line x1="427" y1="425.8" x2="427" y2="429.1" stroke="#1a1a1a" stroke-width="1"/>
<text x="427" y="438.6" font-size="7.3" fill="#2b2b2b" stroke="#2b2b2b" stroke-width="0.15" text-anchor="middle" textLength="7.4" lengthAdjust="spacingAndGlyphs">36</text>
<line x1="463.5" y1="425.8" x2="463.5" y2="429.1" stroke="#1a1a1a" stroke-width="1"/>
<text x="463.5" y="438.6" font-size="7.3" fill="#2b2b2b" stroke="#2b2b2b" stroke-width="0.15" text-anchor="middle" textLength="7.4" lengthAdjust="spacingAndGlyphs">48</text>
<line x1="500" y1="425.8" x2="500" y2="429.1" stroke="#1a1a1a" stroke-width="1"/>
<text x="500" y="438.6" font-size="7.3" fill="#2b2b2b" stroke="#2b2b2b" stroke-width="0.15" text-anchor="middle" textLength="7.4" lengthAdjust="spacingAndGlyphs">60</text>
<text x="302" y="453.55" font-size="7" fill="#2b2b2b" stroke="#2b2b2b" stroke-width="0.15" textLength="108" lengthAdjust="spacingAndGlyphs">Number at risk (number censored)</text>
<line x1="301.4" y1="456.75" x2="301.4" y2="488.95" stroke="#1a1a1a" stroke-width="1.25"/>
<line x1="300.8" y1="488.45" x2="512.6" y2="488.45" stroke="#1a1a1a" stroke-width="1.3"/>
<line x1="298.3" y1="462.75" x2="301.4" y2="462.75" stroke="#1a1a1a" stroke-width="1"/>
<text x="294.6" y="465.35" font-size="7.2" fill="#5f98cc" stroke="#5f98cc" stroke-width="0.15" text-anchor="end" textLength="12.6" lengthAdjust="spacingAndGlyphs">Low</text>
<text x="317.5" y="465.65" font-size="7.3" fill="#2b2b2b" stroke="#2b2b2b" stroke-width="0.15" text-anchor="middle" textLength="17.35" lengthAdjust="spacingAndGlyphs">12 (0)</text>
<text x="354" y="465.65" font-size="7.3" fill="#2b2b2b" stroke="#2b2b2b" stroke-width="0.15" text-anchor="middle" textLength="13.4" lengthAdjust="spacingAndGlyphs">6 (1)</text>
<text x="390.5" y="465.65" font-size="7.3" fill="#2b2b2b" stroke="#2b2b2b" stroke-width="0.15" text-anchor="middle" textLength="13.4" lengthAdjust="spacingAndGlyphs">1 (5)</text>
<text x="427" y="465.65" font-size="7.3" fill="#2b2b2b" stroke="#2b2b2b" stroke-width="0.15" text-anchor="middle" textLength="13.4" lengthAdjust="spacingAndGlyphs">1 (5)</text>
<text x="463.5" y="465.65" font-size="7.3" fill="#2b2b2b" stroke="#2b2b2b" stroke-width="0.15" text-anchor="middle" textLength="13.4" lengthAdjust="spacingAndGlyphs">0 (6)</text>
<text x="500" y="465.65" font-size="7.3" fill="#2b2b2b" stroke="#2b2b2b" stroke-width="0.15" text-anchor="middle" textLength="13.4" lengthAdjust="spacingAndGlyphs">0 (6)</text>
<line x1="298.3" y1="472.55" x2="301.4" y2="472.55" stroke="#1a1a1a" stroke-width="1"/>
<text x="294.6" y="475.15" font-size="7.2" fill="#e09f4c" stroke="#e09f4c" stroke-width="0.15" text-anchor="end" textLength="25.3" lengthAdjust="spacingAndGlyphs">Medium</text>
<text x="317.5" y="475.45" font-size="7.3" fill="#2b2b2b" stroke="#2b2b2b" stroke-width="0.15" text-anchor="middle" textLength="17.35" lengthAdjust="spacingAndGlyphs">35 (0)</text>
<text x="354" y="475.45" font-size="7.3" fill="#2b2b2b" stroke="#2b2b2b" stroke-width="0.15" text-anchor="middle" textLength="13.4" lengthAdjust="spacingAndGlyphs">9 (5)</text>
<text x="390.5" y="475.45" font-size="7.3" fill="#2b2b2b" stroke="#2b2b2b" stroke-width="0.15" text-anchor="middle" textLength="13.4" lengthAdjust="spacingAndGlyphs">2 (7)</text>
<text x="427" y="475.45" font-size="7.3" fill="#2b2b2b" stroke="#2b2b2b" stroke-width="0.15" text-anchor="middle" textLength="13.4" lengthAdjust="spacingAndGlyphs">0 (8)</text>
<text x="463.5" y="475.45" font-size="7.3" fill="#2b2b2b" stroke="#2b2b2b" stroke-width="0.15" text-anchor="middle" textLength="13.4" lengthAdjust="spacingAndGlyphs">0 (8)</text>
<text x="500" y="475.45" font-size="7.3" fill="#2b2b2b" stroke="#2b2b2b" stroke-width="0.15" text-anchor="middle" textLength="13.4" lengthAdjust="spacingAndGlyphs">0 (8)</text>
<line x1="298.3" y1="482.55" x2="301.4" y2="482.55" stroke="#1a1a1a" stroke-width="1"/>
<text x="294.6" y="485.15" font-size="7.2" fill="#a93856" stroke="#a93856" stroke-width="0.15" text-anchor="end" textLength="14.2" lengthAdjust="spacingAndGlyphs">High</text>
<text x="317.5" y="485.45" font-size="7.3" fill="#2b2b2b" stroke="#2b2b2b" stroke-width="0.15" text-anchor="middle" textLength="17.35" lengthAdjust="spacingAndGlyphs">51 (0)</text>
<text x="354" y="485.45" font-size="7.3" fill="#2b2b2b" stroke="#2b2b2b" stroke-width="0.15" text-anchor="middle" textLength="13.4" lengthAdjust="spacingAndGlyphs">6 (6)</text>
<text x="390.5" y="485.45" font-size="7.3" fill="#2b2b2b" stroke="#2b2b2b" stroke-width="0.15" text-anchor="middle" textLength="13.4" lengthAdjust="spacingAndGlyphs">0 (7)</text>
<text x="427" y="485.45" font-size="7.3" fill="#2b2b2b" stroke="#2b2b2b" stroke-width="0.15" text-anchor="middle" textLength="13.4" lengthAdjust="spacingAndGlyphs">0 (7)</text>
<text x="463.5" y="485.45" font-size="7.3" fill="#2b2b2b" stroke="#2b2b2b" stroke-width="0.15" text-anchor="middle" textLength="13.4" lengthAdjust="spacingAndGlyphs">0 (7)</text>
<text x="500" y="485.45" font-size="7.3" fill="#2b2b2b" stroke="#2b2b2b" stroke-width="0.15" text-anchor="middle" textLength="13.4" lengthAdjust="spacingAndGlyphs">0 (7)</text>
<line x1="317.5" y1="488.45" x2="317.5" y2="491.45" stroke="#1a1a1a" stroke-width="1"/>
<text x="317.5" y="501.45" font-size="7.4" fill="#2b2b2b" stroke="#2b2b2b" stroke-width="0.15" text-anchor="middle" textLength="3.65" lengthAdjust="spacingAndGlyphs">0</text>
<line x1="354" y1="488.45" x2="354" y2="491.45" stroke="#1a1a1a" stroke-width="1"/>
<text x="354" y="501.45" font-size="7.4" fill="#2b2b2b" stroke="#2b2b2b" stroke-width="0.15" text-anchor="middle" textLength="7.3" lengthAdjust="spacingAndGlyphs">12</text>
<line x1="390.5" y1="488.45" x2="390.5" y2="491.45" stroke="#1a1a1a" stroke-width="1"/>
<text x="390.5" y="501.45" font-size="7.4" fill="#2b2b2b" stroke="#2b2b2b" stroke-width="0.15" text-anchor="middle" textLength="7.3" lengthAdjust="spacingAndGlyphs">24</text>
<line x1="427" y1="488.45" x2="427" y2="491.45" stroke="#1a1a1a" stroke-width="1"/>
<text x="427" y="501.45" font-size="7.4" fill="#2b2b2b" stroke="#2b2b2b" stroke-width="0.15" text-anchor="middle" textLength="7.3" lengthAdjust="spacingAndGlyphs">36</text>
<line x1="463.5" y1="488.45" x2="463.5" y2="491.45" stroke="#1a1a1a" stroke-width="1"/>
<text x="463.5" y="501.45" font-size="7.4" fill="#2b2b2b" stroke="#2b2b2b" stroke-width="0.15" text-anchor="middle" textLength="7.3" lengthAdjust="spacingAndGlyphs">48</text>
<line x1="500" y1="488.45" x2="500" y2="491.45" stroke="#1a1a1a" stroke-width="1"/>
<text x="500" y="501.45" font-size="7.4" fill="#2b2b2b" stroke="#2b2b2b" stroke-width="0.15" text-anchor="middle" textLength="7.3" lengthAdjust="spacingAndGlyphs">60</text>
<text x="371.6" y="515.95" font-size="9.4" fill="#2b2b2b" stroke="#2b2b2b" stroke-width="0.15" textLength="74.4" lengthAdjust="spacingAndGlyphs">Survival time (months)</text>
<line x1="56.5" y1="101.8" x2="117.7" y2="101.8" stroke="#2a2a2a" stroke-width="1.2" stroke-dasharray="3.6,2.2"/>
<line x1="65.4" y1="101.8" x2="65.4" y2="162.2" stroke="#2a2a2a" stroke-width="1.2" stroke-dasharray="3.6,2.2"/>
<line x1="93.8" y1="101.8" x2="93.8" y2="162.2" stroke="#2a2a2a" stroke-width="1.2" stroke-dasharray="3.6,2.2"/>
<line x1="117.7" y1="101.8" x2="117.7" y2="162.2" stroke="#2a2a2a" stroke-width="1.2" stroke-dasharray="3.6,2.2"/>
<line x1="317.5" y1="101.8" x2="413.8" y2="101.8" stroke="#2a2a2a" stroke-width="1.2" stroke-dasharray="3.6,2.2"/>
<line x1="324.9" y1="101.8" x2="324.9" y2="162.2" stroke="#2a2a2a" stroke-width="1.2" stroke-dasharray="3.6,2.2"/>
<line x1="413.8" y1="101.8" x2="413.8" y2="162.2" stroke="#2a2a2a" stroke-width="1.2" stroke-dasharray="3.6,2.2"/>
<line x1="56.5" y1="365.6" x2="101" y2="365.6" stroke="#2a2a2a" stroke-width="1.2" stroke-dasharray="3.6,2.2"/>
<line x1="61.9" y1="365.6" x2="61.9" y2="426" stroke="#2a2a2a" stroke-width="1.2" stroke-dasharray="3.6,2.2"/>
<line x1="75.4" y1="365.6" x2="75.4" y2="426" stroke="#2a2a2a" stroke-width="1.2" stroke-dasharray="3.6,2.2"/>
<line x1="101" y1="365.6" x2="101" y2="426" stroke="#2a2a2a" stroke-width="1.2" stroke-dasharray="3.6,2.2"/>
<line x1="317.5" y1="365.6" x2="364.4" y2="365.6" stroke="#2a2a2a" stroke-width="1.2" stroke-dasharray="3.6,2.2"/>
<line x1="328.3" y1="365.6" x2="328.3" y2="426" stroke="#2a2a2a" stroke-width="1.2" stroke-dasharray="3.6,2.2"/>
<line x1="341.3" y1="365.6" x2="341.3" y2="426" stroke="#2a2a2a" stroke-width="1.2" stroke-dasharray="3.6,2.2"/>
<line x1="364.4" y1="365.6" x2="364.4" y2="426" stroke="#2a2a2a" stroke-width="1.2" stroke-dasharray="3.6,2.2"/>
<polyline points="56.5,41.4 57.7,41.7 60.6,41.7 60.6,44.6 62.5,44.6 62.5,49.4 64.4,60 66.3,60 66.3,63.5 72.7,63.5 74,65.8 76.9,65.8 76.9,68.7 78.8,68.7 78.8,71.5 81.7,71.5 81.7,74.4 83.7,74.4 83.7,76.3 85.6,76.3 85.6,79.2 86.5,82.1 101.9,82.1 103.5,88 111.2,88 111.9,90.8 114.4,90.8 114.4,92.7 115.4,96.5 117.3,96.5 117.3,99.4 118.3,105.1 215.4,105.1 215.4,162.2" fill="none" stroke="#5eaad8" stroke-width="1.4" stroke-linejoin="miter"/>
<polyline points="56.5,41.4 57.7,41.7 61.5,41.7 61.5,50.4 63.5,60 66.3,60 66.3,65.8 70.2,66.7 72.1,66.7 72.1,70.6 75,70.6 75,73.5 77.9,73.5 77.9,79.2 79.8,79.2 79.8,82.1 82.7,82.1 82.7,85.4 85.6,85.4 85.6,87.9 87.5,87.9 87.5,90.8 89.4,90.8 89.4,92.7 91.3,92.7 91.3,96.5 93.8,96.5 93.8,101.9 95.2,107.1 98.1,107.1 98.1,109 101.9,109 101.9,111 105.8,111 105.8,112.9 109.6,113.8 114.4,113.8 114.4,115.8 118.3,115.8 118.3,117.7 123.1,117.7 123.1,119.6 126.9,120.6 130.8,120.6 130.8,122.5 133.7,122.5 133.7,125.4 135.6,125.4 135.6,129.4 151.6,129.4 151.6,132.7 155.9,132.7 155.9,135.2 165.4,135.2 165.4,139 174.3,139 174.3,145 217.3,145" fill="none" stroke="#eaab4c" stroke-width="1.4" stroke-linejoin="miter"/>
<polyline points="56.5,41.4 57.7,41.7 58.7,50.4 59.6,60 60.4,69.6 61.2,79.2 62.4,90.3 65.2,101.5 67.3,108.1 69.2,108.1 69.2,111 72.1,111 72.1,112.9 74,112.9 74,115.8 76,115.8 76,119.6 77.9,119.6 77.9,122.5 80.8,123.5 83.7,123.5 83.7,125.4 86.5,125.4 86.5,127.3 88.5,127.3 88.5,130.2 90.4,130.2 90.4,133.1 92.3,133.1 92.3,136.9 94.2,136.9 94.2,139.8 97.1,139.8 97.1,141.7 100,141.7 100,143.7 102.9,143.7 102.9,145.6 105.8,146.5 109.6,146.5 109.6,148 155.2,148 155.2,152.5 165.4,152.5 165.4,155.4 208.6,155.4 208.6,158.7 227.7,158.7 227.7,162.2" fill="none" stroke="#a51f4a" stroke-width="1.4" stroke-linejoin="miter"/>
<polyline points="317.5,41.4 325,41.4 325,48.6 341.2,48.6 341.2,56.9 372.5,56.9 372.5,67.7 375.4,67.7 375.4,78.3 378.8,78.3 378.8,88.7 465.2,88.7" fill="none" stroke="#5eaad8" stroke-width="1.4" stroke-linejoin="miter"/>
<polyline points="317.5,41.4 322.5,41.4 322.5,48.5 324.4,48.5 324.4,52.3 328.3,52.3 328.3,57.1 330.2,57.1 330.2,61 334,61 334,64.8 338.8,64.8 338.8,69.6 345.6,69.6 345.6,73.5 350.4,73.5 350.4,76.3 353.3,76.3 353.3,80.2 355.2,80.2 355.2,84 357.1,84 357.1,89.4 380.2,89.4 380.2,95.6 392.7,95.6 392.7,101.7 413.8,101.7 413.8,108.6 416.9,108.6 416.9,115 426.4,115 426.4,127 478.3,127" fill="none" stroke="#eaab4c" stroke-width="1.4" stroke-linejoin="miter"/>
<polyline points="317.5,41.4 318.1,41.4 319.6,60 320.6,73.5 322.5,85 323.5,94.6 324.4,101.3 326.3,101.3 326.3,105.2 328.3,105.2 328.3,108.1 331.2,109 333.1,109 333.1,111.9 335,111.9 335,113.8 336.9,113.8 336.9,115.8 340.8,116.7 343.7,116.7 343.7,119.6 346.5,119.6 346.5,121.5 350.4,121.5 350.4,125.4 351.9,125.4 351.9,131.7 415.9,131.7 415.9,139.1 469.8,139.1 469.8,150.9 488.9,150.9 488.9,162.2" fill="none" stroke="#a51f4a" stroke-width="1.4" stroke-linejoin="miter"/>
<polyline points="56.5,305.2 63.5,305.2 63.5,325.9 65.4,325.9 65.4,345.1 73.5,345.1 73.5,365.3 76.9,365.3 76.9,386 215.5,386 215.5,426" fill="none" stroke="#5eaad8" stroke-width="1.4" stroke-linejoin="miter"/>
<polyline points="56.5,305.2 58.1,305.2 58.1,311.5 59.6,311.5 59.6,316.3 63.1,316.3 63.1,325.9 65.4,325.9 65.4,327.8 74.6,327.8 74.6,342.2 88.5,342.2 88.5,349.9 95.2,349.9 95.2,356.7 101,356.7 101,365.3 102.9,365.3 102.9,374.9 120.2,374.9 120.2,382.6 134.2,382.6 134.2,394.5 174.5,394.5 174.5,410.5 184.8,410.5" fill="none" stroke="#eaab4c" stroke-width="1.4" stroke-linejoin="miter"/>
<polyline points="56.5,305.2 57.3,305.2 58.7,324.9 60.6,348 61.9,372 63.1,378.8 73.1,378.8 74,386.5 80.4,386.5 80.8,394.2 96.2,394.2 96.2,402.8 99,402.8 99.6,410.5 155.2,410.5 155.2,418.6 165.4,418.6 165.4,426" fill="none" stroke="#a51f4a" stroke-width="1.4" stroke-linejoin="miter"/>
<polyline points="317.5,305.2 318.7,305.2 319.6,315.3 321.5,315.3 322.5,321.1 323.8,326.8 325,335.5 326.3,336.5 345,336.5 345,347 346.5,347 346.9,359.2 364.4,359.2 364.4,381.7 440.2,381.7" fill="none" stroke="#5eaad8" stroke-width="1.4" stroke-linejoin="miter"/>
<polyline points="317.5,305.2 318.1,305.2 320.6,305.2 320.6,311.5 321.5,315.3 323.1,321.1 324.4,326.8 326.3,332.6 328.3,332.6 328.3,336.5 331.2,336.5 331.2,338.4 333.1,338.4 333.1,343.2 335,343.2 335,348 336.9,348 336.9,352.8 338.8,352.8 338.8,356.7 340.8,356.7 340.8,361.5 342.7,361.5 342.7,366.3 344.6,366.3 344.6,370.1 346.5,370.1 346.5,374 348.5,374 348.5,377.8 350.4,377.8 350.4,380.7 352.3,380.7 352.3,384.5 354.2,384.5 354.2,389.3 356.2,389.3 356.2,394.2 357.1,397.6 364.4,397.6 366.7,397.6 366.7,401.8 373.5,401.8 374.4,407.2 388.5,407.2 388.8,413.4 396.2,413.4 397.5,421.1 397.5,426" fill="none" stroke="#eaab4c" stroke-width="1.4" stroke-linejoin="miter"/>
<polyline points="317.5,305.2 318.1,305.2 319.6,313.4 321.2,323 322.5,332.6 323.8,342.2 325.4,351.8 326.9,361.5 328.3,371.1 329.2,374 331.2,374 331.2,375.9 334,375.9 336,382.6 337.9,382.6 337.9,386.5 338.8,390.3 346.5,390.3 348.5,396.1 350.4,396.1 350.4,399.9 352.3,399.9 352.3,404.7 354.2,404.7 354.2,408.6 356.2,408.6 356.2,413.4 361,413.4 361,415.3 362.9,415.3 362.9,419.2 365.8,420.1 367.7,421.1 369.6,421.1 369.6,423 380.8,423" fill="none" stroke="#a51f4a" stroke-width="1.4" stroke-linejoin="miter"/>
<path d="M138.6,567.14 C174.9,567.14 174.9,580.2 211.2,580.2 L211.2,602.7 C174.9,602.7 174.9,589.64 138.6,589.64 Z" fill="#fac68a" style="mix-blend-mode:multiply"/>
<path d="M138.6,621.57 C174.9,621.57 174.9,602.7 211.2,602.7 L211.2,617.94 C174.9,617.94 174.9,636.81 138.6,636.81 Z" fill="#fac68a" style="mix-blend-mode:multiply"/>
<path d="M138.6,658.58 C174.9,658.58 174.9,617.94 211.2,617.94 L211.2,643.34 C174.9,643.34 174.9,683.99 138.6,683.99 Z" fill="#fac68a" style="mix-blend-mode:multiply"/>
<path d="M138.6,589.64 C174.9,589.64 174.9,643.34 211.2,643.34 L211.2,670.92 C174.9,670.92 174.9,617.22 138.6,617.22 Z" fill="#e28c7e" style="mix-blend-mode:multiply"/>
<path d="M138.6,636.81 C174.9,636.81 174.9,670.92 211.2,670.92 L211.2,683.99 C174.9,683.99 174.9,649.88 138.6,649.88 Z" fill="#e28c7e" style="mix-blend-mode:multiply"/>
<path d="M138.6,683.99 C174.9,683.99 174.9,683.99 211.2,683.99 L211.2,721 C174.9,721 174.9,721 138.6,721 Z" fill="#e28c7e" style="mix-blend-mode:multiply"/>
<path d="M138.6,554.8 C174.9,554.8 174.9,554.8 211.2,554.8 L211.2,567.14 C174.9,567.14 174.9,567.14 138.6,567.14 Z" fill="#a8d3f4" style="mix-blend-mode:multiply"/>
<path d="M138.6,617.22 C174.9,617.22 174.9,567.14 211.2,567.14 L211.2,571.49 C174.9,571.49 174.9,621.57 138.6,621.57 Z" fill="#a8d3f4" style="mix-blend-mode:multiply"/>
<path d="M138.6,649.88 C174.9,649.88 174.9,571.49 211.2,571.49 L211.2,580.2 C174.9,580.2 174.9,658.58 138.6,658.58 Z" fill="#a8d3f4" style="mix-blend-mode:multiply"/>
<rect x="102.2" y="554.8" width="36.2" height="166.2" fill="none" stroke="#2a2a2a" stroke-width="1.2"/>
<rect x="211.3" y="554.8" width="37.2" height="166.2" fill="none" stroke="#2a2a2a" stroke-width="1.2"/>
<line x1="102.2" y1="617.22" x2="138.4" y2="617.22" stroke="#2a2a2a" stroke-width="1.2"/>
<line x1="102.2" y1="649.88" x2="138.4" y2="649.88" stroke="#2a2a2a" stroke-width="1.2"/>
<line x1="211.3" y1="580.2" x2="248.5" y2="580.2" stroke="#2a2a2a" stroke-width="1.2"/>
<line x1="211.3" y1="643.34" x2="248.5" y2="643.34" stroke="#2a2a2a" stroke-width="1.2"/>
<text x="77.2" y="545.8" font-size="11.5" fill="#111" font-weight="bold" stroke="#111" stroke-width="0.35">K</text>
<text x="100" y="548.9" font-size="9.6" fill="#2b2b2b" stroke="#2b2b2b" stroke-width="0.15" textLength="37.7" lengthAdjust="spacingAndGlyphs">ELN2024</text>
<text x="229.8" y="548.9" font-size="9.6" fill="#2b2b2b" stroke="#2b2b2b" stroke-width="0.15" text-anchor="middle" textLength="18" lengthAdjust="spacingAndGlyphs">LIRS</text>
<text x="120.4" y="588.6" font-size="7" fill="#3a3a3a" stroke="#3a3a3a" stroke-width="0.05" text-anchor="middle" textLength="30.7" lengthAdjust="spacingAndGlyphs">Favorable</text>
<text x="120.4" y="632.4" font-size="7" fill="#3a3a3a" stroke="#3a3a3a" stroke-width="0.05" text-anchor="middle" textLength="17.5" lengthAdjust="spacingAndGlyphs">Inter-</text>
<text x="120.4" y="639.8" font-size="7" fill="#3a3a3a" stroke="#3a3a3a" stroke-width="0.05" text-anchor="middle" textLength="24.5" lengthAdjust="spacingAndGlyphs">mediate</text>
<text x="120.4" y="687.9" font-size="7" fill="#3a3a3a" stroke="#3a3a3a" stroke-width="0.05" text-anchor="middle" textLength="25.5" lengthAdjust="spacingAndGlyphs">Adverse</text>
<text x="229.9" y="569.6" font-size="7" fill="#3a3a3a" stroke="#3a3a3a" stroke-width="0.05" text-anchor="middle" textLength="12.8" lengthAdjust="spacingAndGlyphs">Low</text>
<text x="229.9" y="613.7" font-size="7" fill="#3a3a3a" stroke="#3a3a3a" stroke-width="0.05" text-anchor="middle" textLength="26" lengthAdjust="spacingAndGlyphs">Medium</text>
<text x="229.9" y="684.5" font-size="7" fill="#3a3a3a" stroke="#3a3a3a" stroke-width="0.05" text-anchor="middle" textLength="14.5" lengthAdjust="spacingAndGlyphs">High</text>
<text x="275.5" y="545.8" font-size="11.5" fill="#111" font-weight="bold" stroke="#111" stroke-width="0.35">L</text>
<rect x="327.4" y="682.89" width="28.4" height="38.11" fill="#ea0a88"/>
<line x1="341.4" y1="670.6" x2="341.4" y2="694.5" stroke="#1a1a1a" stroke-width="1.1"/>
<line x1="336.7" y1="670.6" x2="346.1" y2="670.6" stroke="#1a1a1a" stroke-width="1.2"/>
<line x1="336.7" y1="694.5" x2="346.1" y2="694.5" stroke="#1a1a1a" stroke-width="1.2"/>
<rect x="364.2" y="622.39" width="28.4" height="98.61" fill="#c26916"/>
<line x1="378.5" y1="610.9" x2="378.5" y2="632.4" stroke="#1a1a1a" stroke-width="1.1"/>
<line x1="373.8" y1="610.9" x2="383.2" y2="610.9" stroke="#1a1a1a" stroke-width="1.2"/>
<line x1="373.8" y1="632.4" x2="383.2" y2="632.4" stroke="#1a1a1a" stroke-width="1.2"/>
<rect x="401.3" y="625.17" width="28.7" height="95.83" fill="#37a837"/>
<line x1="415.6" y1="613.5" x2="415.6" y2="635.6" stroke="#1a1a1a" stroke-width="1.1"/>
<line x1="410.9" y1="613.5" x2="420.3" y2="613.5" stroke="#1a1a1a" stroke-width="1.2"/>
<line x1="410.9" y1="635.6" x2="420.3" y2="635.6" stroke="#1a1a1a" stroke-width="1.2"/>
<line x1="316.2" y1="554.8" x2="316.2" y2="721.7" stroke="#2a2a2a" stroke-width="1.5"/>
<line x1="315.5" y1="721" x2="442.7" y2="721" stroke="#2a2a2a" stroke-width="1.5"/>
<line x1="313" y1="713.8" x2="316.2" y2="713.8" stroke="#1a1a1a" stroke-width="1"/>
<text x="309.1" y="716.55" font-size="7.5" fill="#2b2b2b" stroke="#2b2b2b" stroke-width="0.15" text-anchor="end" textLength="10" lengthAdjust="spacingAndGlyphs">0.5</text>
<line x1="313" y1="663.3" x2="316.2" y2="663.3" stroke="#1a1a1a" stroke-width="1"/>
<text x="309.1" y="666.05" font-size="7.5" fill="#2b2b2b" stroke="#2b2b2b" stroke-width="0.15" text-anchor="end" textLength="10" lengthAdjust="spacingAndGlyphs">0.6</text>
<line x1="313" y1="612.8" x2="316.2" y2="612.8" stroke="#1a1a1a" stroke-width="1"/>
<text x="309.1" y="615.55" font-size="7.5" fill="#2b2b2b" stroke="#2b2b2b" stroke-width="0.15" text-anchor="end" textLength="10" lengthAdjust="spacingAndGlyphs">0.7</text>
<line x1="313" y1="562.3" x2="316.2" y2="562.3" stroke="#1a1a1a" stroke-width="1"/>
<text x="309.1" y="565.05" font-size="7.5" fill="#2b2b2b" stroke="#2b2b2b" stroke-width="0.15" text-anchor="end" textLength="10" lengthAdjust="spacingAndGlyphs">0.8</text>
<line x1="341.5" y1="721" x2="341.5" y2="724.3" stroke="#1a1a1a" stroke-width="1"/>
<text x="341.5" y="733.7" font-size="6.6" fill="#2b2b2b" stroke="#2b2b2b" stroke-width="0.15" text-anchor="middle" textLength="29" lengthAdjust="spacingAndGlyphs">ELN2024</text>
<line x1="378.5" y1="721" x2="378.5" y2="724.3" stroke="#1a1a1a" stroke-width="1"/>
<text x="378.5" y="733.7" font-size="6.6" fill="#2b2b2b" stroke="#2b2b2b" stroke-width="0.15" text-anchor="middle" textLength="14.5" lengthAdjust="spacingAndGlyphs">LIRS</text>
<line x1="415.7" y1="721" x2="415.7" y2="724.3" stroke="#1a1a1a" stroke-width="1"/>
<text x="415.7" y="733.7" font-size="6.6" fill="#2b2b2b" stroke="#2b2b2b" stroke-width="0.15" text-anchor="middle" textLength="47" lengthAdjust="spacingAndGlyphs">LIRS+ELN2024</text>
<text x="290.5" y="637.6" font-size="10" fill="#2b2b2b" stroke="#2b2b2b" stroke-width="0.15" text-anchor="middle" textLength="62" lengthAdjust="spacingAndGlyphs" transform="rotate(-90 290.5 637.6) translate(0 3.1)">Concordance index</text>
<path d="M0,0H520V743H0Z M1.1,1.1V741.8H518.8V1.1Z" fill="#4d4d4d" fill-rule="evenodd"/>
</svg></body></html>
